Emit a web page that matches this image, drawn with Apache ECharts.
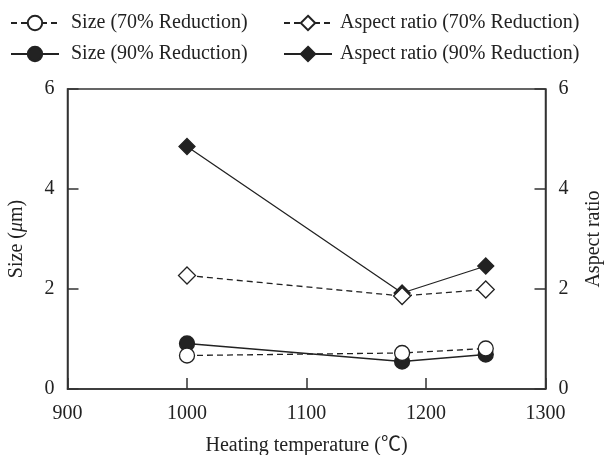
<!DOCTYPE html>
<html>
<head>
<meta charset="utf-8">
<script src="https://cdn.jsdelivr.net/npm/echarts@6/dist/echarts.min.js"></script>
<style>html,body{margin:0;padding:0;background:#fff}#c{width:604px;height:455px}</style>
</head>
<body>
<div id="c"></div>
<script>
const temps = [1000, 1180, 1250];
const size70 = [0.67, 0.72, 0.81];
const size90 = [0.91, 0.55, 0.69];
const aspect70 = [2.27, 1.86, 1.99];
const aspect90 = [4.85, 1.92, 2.46];
const xTicks = [900, 1000, 1100, 1200, 1300];
const yTicks = [0, 2, 4, 6];
const names = ['Size (70% Reduction)', 'Size (90% Reduction)', 'Aspect ratio (70% Reduction)', 'Aspect ratio (90% Reduction)'];

const FONT = '"Liberation Serif", "Times New Roman", "Noto Sans CJK SC", serif';
const INK = '#222';
const pairs = arr => temps.map((t, i) => [t, arr[i]]);

function mk(name, arr, axis, symbol, filled, dashed, z, size) {
  return {
    name, type: 'line', yAxisIndex: axis, z,
    data: pairs(arr),
    symbol, symbolSize: size, showSymbol: true,
    lineStyle: { color: INK, width: 1.3, type: dashed ? [6, 4] : 'solid' },
    itemStyle: { color: filled ? INK : '#fff', borderColor: INK, borderWidth: 1.3 },
    emphasis: { disabled: true },
    animation: false
  };
}

const legendCommon = {
  orient: 'vertical', itemWidth: 48, itemHeight: 18, itemGap: 11,
  selectedMode: false
};

const chart = echarts.init(document.getElementById('c'), null, { renderer: 'canvas' });
chart.setOption({
  animation: false,
  backgroundColor: '#fff',
  textStyle: { fontFamily: FONT },
  legend: [
    Object.assign({}, legendCommon, { left: 5, top: 8, data: [names[0], names[1]],
      textStyle: { fontFamily: FONT, fontSize: 20, color: INK, padding: [0, 0, 0, 7] } }),
    Object.assign({}, legendCommon, { left: 278, top: 8, data: [names[2], names[3]],
      textStyle: { fontFamily: FONT, fontSize: 20, color: INK, padding: [0, 0, 0, 3] } })
  ],
  grid: { left: 67.5, right: 58.5, top: 89, bottom: 66, outerBoundsMode: 'none', containLabel: false,
    show: true, borderColor: '#333', borderWidth: 1.5, backgroundColor: 'transparent' },
  xAxis: {
    type: 'value', min: xTicks[0], max: xTicks[xTicks.length - 1], interval: 100,
    name: 'Heating temperature (℃)', nameLocation: 'middle', nameGap: 47,
    nameTextStyle: { fontFamily: FONT, fontSize: 20, color: INK },
    axisLine: { lineStyle: { color: '#333', width: 1.5 } },
    axisTick: { inside: true, length: 11, lineStyle: { color: '#333', width: 1.5 } },
    axisLabel: { fontFamily: FONT, fontSize: 20, color: INK, margin: 15, formatter: v => String(v) },
    splitLine: { show: false }
  },
  yAxis: [
    {
      type: 'value', min: yTicks[0], max: yTicks[yTicks.length - 1], interval: 2,
      name: '{n|Size (}{i|μ}{n|m)}', nameLocation: 'middle', nameGap: 41, nameRotate: 90,
      nameTextStyle: { rich: { n: { fontFamily: FONT, fontSize: 20, color: INK }, i: { fontFamily: FONT, fontSize: 20, color: INK, fontStyle: 'italic' } } },
      axisLine: { show: true, lineStyle: { color: '#333', width: 1.5 } },
      axisTick: { show: true, inside: true, length: 11, lineStyle: { color: '#333', width: 1.5 } },
      axisLabel: { fontFamily: FONT, fontSize: 20, color: INK, margin: 13, formatter: v => String(v) },
      splitLine: { show: false }
    },
    {
      type: 'value', min: yTicks[0], max: yTicks[yTicks.length - 1], interval: 2, position: 'right',
      name: 'Aspect ratio', nameLocation: 'middle', nameGap: 38, nameRotate: 90,
      nameTextStyle: { fontFamily: FONT, fontSize: 20, color: INK },
      axisLine: { show: true, lineStyle: { color: '#333', width: 1.5 } },
      axisTick: { show: true, inside: true, length: 11, lineStyle: { color: '#333', width: 1.5 } },
      axisLabel: { fontFamily: FONT, fontSize: 20, color: INK, margin: 13, formatter: v => String(v) },
      splitLine: { show: false }
    }
  ],
  series: [
    mk(names[1], size90, 0, 'circle', true, false, 2, 15),
    mk(names[3], aspect90, 1, 'diamond', true, false, 2, 16),
    mk(names[0], size70, 0, 'circle', false, true, 3, 15),
    mk(names[2], aspect70, 1, 'diamond', false, true, 3, 17)
  ]
});
</script>
</body>
</html>
